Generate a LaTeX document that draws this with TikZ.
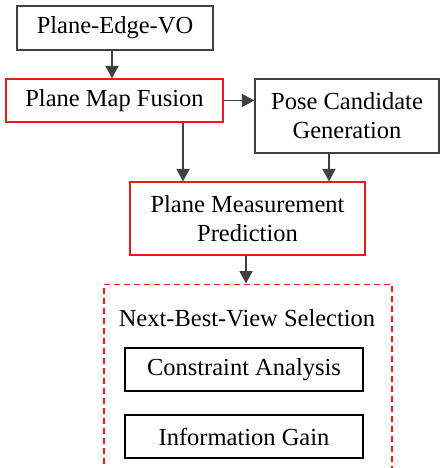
\documentclass[tikz,border=0pt]{standalone}
\usepackage{fontspec}
\setmainfont{Liberation Serif}
\definecolor{pmred}{RGB}{235,25,25}
\definecolor{pmgray}{RGB}{64,64,64}
\usetikzlibrary{arrows.meta,positioning}

\begin{document}
\begin{tikzpicture}[x=1pt,y=-1pt,
  pmbox/.style={draw=pmgray,line width=1.3pt,fill=white,align=center,inner sep=0pt,
    font=\fontsize{24.5}{29}\selectfont},
  pmredbox/.style={pmbox,draw=pmred},
  pmarr/.style={-{Triangle[length=12.5pt,width=13pt]},line width=1.8pt,pmgray}
]
  \useasboundingbox (0,0) rectangle (440,468);
  % upper chain
  \node[pmbox,minimum width=196pt,minimum height=44pt] (vo) at (115,28) {Plane-Edge-VO};
  \node[pmredbox,minimum width=217pt,minimum height=43pt] (fusion) at (114.5,100.5) {Plane Map Fusion};
  \node[pmbox,minimum width=184pt,minimum height=74pt] (pose) at (347,116) {Pose Candidate\\Generation};
  \node[pmredbox,minimum width=235pt,minimum height=73pt] (pred) at (247.5,218.5) {Plane Measurement\\Prediction};
  % next-best-view block
  \node[draw=pmred,line width=1.5pt,dash pattern=on 6pt off 4pt,minimum width=288pt,
    minimum height=200pt,anchor=north] (nbv) at (248,283.5) {};
  \node[font=\fontsize{24.5}{29}\selectfont] (nbvt) at (247,318) {Next-Best-View Selection};
  \node[pmbox,draw=black,minimum width=238pt,minimum height=43pt] (cons) at (244,369.5) {Constraint Analysis};
  \node[pmbox,draw=black,minimum width=238pt,minimum height=43pt] (gain) at (244,436.5) {Information Gain};
  % arrows
  \draw[pmarr] (vo.south -| 112,0) -- (fusion.north -| 112,0);
  \draw[pmarr] (fusion.east) -- (pose.west |- fusion.east);
  \draw[pmarr] (fusion.south -| 183,0) -- (pred.north -| 183,0);
  \draw[pmarr] (pose.south -| 329,0) -- (pred.north -| 329,0);
  \draw[pmarr] (pred.south -| 246,0) -- (nbv.north -| 246,0);
\end{tikzpicture}
\end{document}
